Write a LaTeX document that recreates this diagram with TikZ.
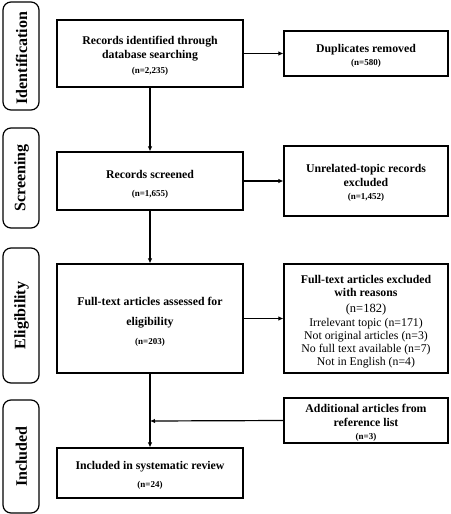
\documentclass[tikz,border=0pt]{standalone}
\usepackage{fontspec}
\setmainfont{Liberation Serif}
\usetikzlibrary{arrows.meta}
\newcommand{\nsmall}[1]{{\fontsize{9}{11}\selectfont\bfseries #1}}
\begin{document}
\begin{tikzpicture}[x=1pt,y=-1pt,
  box/.style={draw,line width=1.2pt,inner sep=0pt},
  lbox/.style={box,minimum width=186pt},
  rbox/.style={box,minimum width=164pt},
  txt/.style={align=center,inner sep=0pt,font=\fontsize{11.8}{14}\selectfont\bfseries},
  stage/.style={draw,line width=1.2pt,rounded corners=8pt,minimum width=36pt,inner sep=0pt},
  stxt/.style={rotate=90,inner sep=0pt,font=\fontsize{16}{18}\selectfont\bfseries},
  arr/.style={line width=1.2pt,-{Latex[length=5pt,width=4.5pt]}}]
\useasboundingbox (0,0) rectangle (450,514);
% stage labels
\node[stage,minimum height=108pt] (sid) at (21,56) {};
\node[stxt] (tid) at ([xshift=0.5pt,yshift=-2pt]sid.center) {Identification};
\node[stage,minimum height=100pt] (ssc) at (21,178) {};
\node[stxt] (tsc) at ([xshift=0.5pt]ssc.center) {Screening};
\node[stage,minimum height=135pt] (sel) at (21,315.5) {};
\node[stxt] (tel) at ([xshift=0.5pt]sel.center) {Eligibility};
\node[stage,minimum height=113pt] (sin) at (21,456.5) {};
\node[stxt] (tin) at ([xshift=0.5pt]sin.center) {Included};
% main boxes
\node[lbox,minimum height=67pt] (b1) at (150,53.5) {};
\node[txt] (b1t) at ([yshift=-2.5pt]b1.center) {Records identified through\\database searching\\[1pt]\nsmall{(n=2,235)}};
\node[rbox,minimum height=45pt] (dup) at (366,53.5) {};
\node[txt] (dupt) at ([yshift=-2pt]dup.center) {Duplicates removed\\[-1pt]\nsmall{(n=580)}};
\node[lbox,minimum height=58pt] (scr) at (150,181) {};
\node[txt] (scrt) at ([yshift=-3pt]scr.center) {Records screened\\[4pt]\nsmall{(n=1,655)}};
\node[rbox,minimum height=70pt] (unr) at (366,181) {};
\node[txt] (unrt) at ([yshift=-2pt]unr.center) {Unrelated-topic records\\excluded\\[-1pt]\nsmall{(n=1,452)}};
\node[lbox,minimum height=109pt] (full) at (150,318.5) {};
\node[txt] (fullt) at ([yshift=-3pt]full.center) {Full-text articles assessed for\\[6pt]eligibility\\[5pt]\nsmall{(n=203)}};
\node[rbox,minimum height=109pt] (exc) at (366,318.5) {};
\node[txt,font=\fontsize{11.8}{13.3}\selectfont] (exct) at ([yshift=-3.5pt]exc.center) {\textbf{Full-text articles excluded}\\\textbf{with reasons}\\[2.5pt]{\fontsize{12.5}{14}\selectfont(n=182)}\\Irrelevant topic (n=171)\\Not original articles (n=3)\\No full text available (n=7)\\Not in English (n=4)};
\node[rbox,minimum height=45pt] (add) at (366,420.5) {};
\node[txt] (addt) at ([yshift=-2pt]add.center) {Additional articles from\\reference list\\[-1pt]\nsmall{(n=3)}};
\node[lbox,minimum height=50pt] (inc) at (150,473) {};
\node[txt] (inct) at ([yshift=-2pt]inc.center) {Included in systematic review\\[4pt]\nsmall{(n=24)}};
\coordinate (join) at (150,421);
% connectors
\draw[arr] (b1.east) -- (dup.west);
\draw[arr] (scr.east) -- (unr.west);
\draw[arr] (full.east) -- (exc.west);
\draw[arr] (b1.south) -- (scr.north);
\draw[arr] (scr.south) -- (full.north);
\draw[arr] (full.south) -- (inc.north);
\draw[arr] (add.west) -- (join);
\end{tikzpicture}
\end{document}
